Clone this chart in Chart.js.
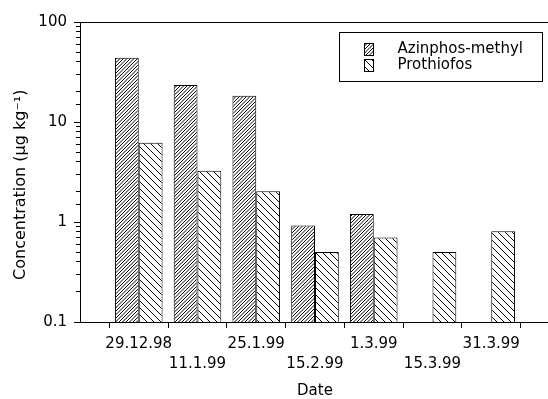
<!DOCTYPE html>
<html><head><meta charset="utf-8">
<script src="https://cdn.jsdelivr.net/npm/chart.js@4.4.1/dist/chart.umd.min.js"></script>
<style>
html,body{margin:0;padding:0;overflow:hidden;background:#fff;width:548px;height:399px}
#wrap{width:556px;height:399px;position:relative}
</style>
</head><body><div id="wrap"><canvas id="c"></canvas></div>
<script>
// ---- data ----
const dates = ['29.12.98','11.1.99','25.1.99','15.2.99','1.3.99','15.3.99','31.3.99'];
const azinphos = [44, 23.5, 18.3, 0.92, 1.2, null, null];
const prothiofos = [6.2, 3.25, 2.03, 0.5, 0.7, 0.5, 0.81];
const seriesNames = ['Azinphos-methyl', 'Prothiofos'];
const yTickLabels = ['0.1', '1', '10', '100'];
const xTitle = 'Date';
const yTitle = 'Concentration (µg kg⁻¹)';

// categories with empty slots at both ends (axis starts/ends one step away)
const labels = ['', ...dates, ''];
const padSlots = arr => [null, ...arr, null];

Chart.defaults.font.family = "'DejaVu Sans', sans-serif";
Chart.defaults.color = '#000';

function hatchTile(dir, d, S) {
  const c = document.createElement('canvas');
  c.width = S; c.height = S;
  const g = c.getContext('2d');
  g.fillStyle = '#fff'; g.fillRect(0, 0, S, S);
  g.strokeStyle = '#000'; g.lineWidth = 1;
  g.beginPath();
  for (let k = -2 * S; k <= 2 * S; k += d) {
    if (dir === '/') { g.moveTo(k, S); g.lineTo(k + S, 0); }
    else { g.moveTo(k, 0); g.lineTo(k + S, S); }
  }
  g.stroke();
  return c;
}
const tileA = hatchTile('/', 3.5, 7);
const tileP = hatchTile('\\', 7, 7);

const canvas = document.getElementById('c');
const mainCtx = canvas.getContext('2d');
const patA = mainCtx.createPattern(tileA, 'repeat');
const patP = mainCtx.createPattern(tileP, 'repeat');

function swatch(tile) {
  const c = document.createElement('canvas');
  c.width = 10; c.height = 13;
  const g = c.getContext('2d');
  g.fillStyle = g.createPattern(tile, 'repeat');
  g.fillRect(0, 0, 10, 13);
  g.strokeStyle = '#000'; g.lineWidth = 1;
  g.strokeRect(0.5, 0.5, 9, 12);
  return c;
}
const swA = swatch(tileA);
const swP = swatch(tileP);

const isMajor = v => Math.abs(Math.log10(v) - Math.round(Math.log10(v))) < 1e-6;

const legendFrame = {
  id: 'legendFrame',
  afterLayout(chart) {
    const lg = chart.legend;
    if (!lg) return;
    lg.left = 347; lg.top = 41;
    lg.right = lg.left + 195; lg.bottom = lg.top + 60;
  },
  afterDraw(chart) {
    const ctx = chart.ctx;
    ctx.save();
    ctx.strokeStyle = '#000'; ctx.lineWidth = 1;
    ctx.strokeRect(339.5, 32.5, 203, 49);
    ctx.restore();
  }
};

new Chart(canvas, {
  type: 'bar',
  data: {
    labels,
    datasets: [
      { label: seriesNames[0], data: padSlots(azinphos), backgroundColor: patA,
        borderColor: '#000', borderWidth: 1, pointStyle: swA },
      { label: seriesNames[1], data: padSlots(prothiofos), backgroundColor: patP,
        borderColor: '#000', borderWidth: 1, pointStyle: swP }
    ]
  },
  options: {
    responsive: true,
    maintainAspectRatio: false,
    animation: false,
    layout: { padding: { top: 22, right: 1, bottom: 0, left: 0 } },
    datasets: { bar: { categoryPercentage: 0.81, barPercentage: 1 } },
    plugins: {
      legend: {
        position: 'chartArea', fullSize: false, align: 'start',
        labels: { usePointStyle: true, pointStyleWidth: 42, padding: 1, color: '#000',
                  font: { size: 15 } }
      },
      tooltip: { enabled: false }
    },
    scales: {
      x: {
        type: 'category', position: 'bottom', offset: false,
        grid: { drawOnChartArea: false, tickLength: 6, tickColor: '#000', color: '#000' },
        border: { color: '#000', width: 1 },
        ticks: {
          autoSkip: false, maxRotation: 0, minRotation: 0, padding: 6, color: '#000',
          font: { size: 15, lineHeight: 20 / 15 },
          callback: (v, i) => {
            const l = labels[i];
            if (!l) return '';
            return (i % 2 === 1) ? l : ['', l];
          }
        },
        title: { display: true, text: xTitle, color: '#000',
                 font: { size: 15, lineHeight: 16 / 15 }, padding: { top: 9, bottom: 0 } },
        afterFit: s => { s.height = 77; }
      },
      x2: {
        type: 'category', position: 'top', offset: false,
        grid: { display: true, drawOnChartArea: false, drawTicks: false },
        border: { display: true, color: '#000', width: 1 },
        ticks: { display: false }
      },
      y: {
        type: 'logarithmic', min: 0.1, max: 100,
        grid: {
          drawOnChartArea: false, tickLength: 6, tickColor: '#000', color: '#000',
          tickBorderDash: ctx => (ctx.tick && isMajor(ctx.tick.value)) ? [] : [0, 2, 4, 10]
        },
        border: { color: '#000', width: 1 },
        ticks: {
          autoSkip: false, padding: 7, color: '#000', font: { size: 15 },
          callback: v => isMajor(v) ? yTickLabels[Math.round(Math.log10(v)) + 1] : ''
        },
        title: { display: true, text: yTitle + '     ', color: '#000',
                 font: { size: 16 }, padding: { top: 11.4, bottom: 0 } },
        afterFit: s => { s.width = 80; }
      }
    }
  },
  plugins: [legendFrame]
});
</script>
</body></html>
